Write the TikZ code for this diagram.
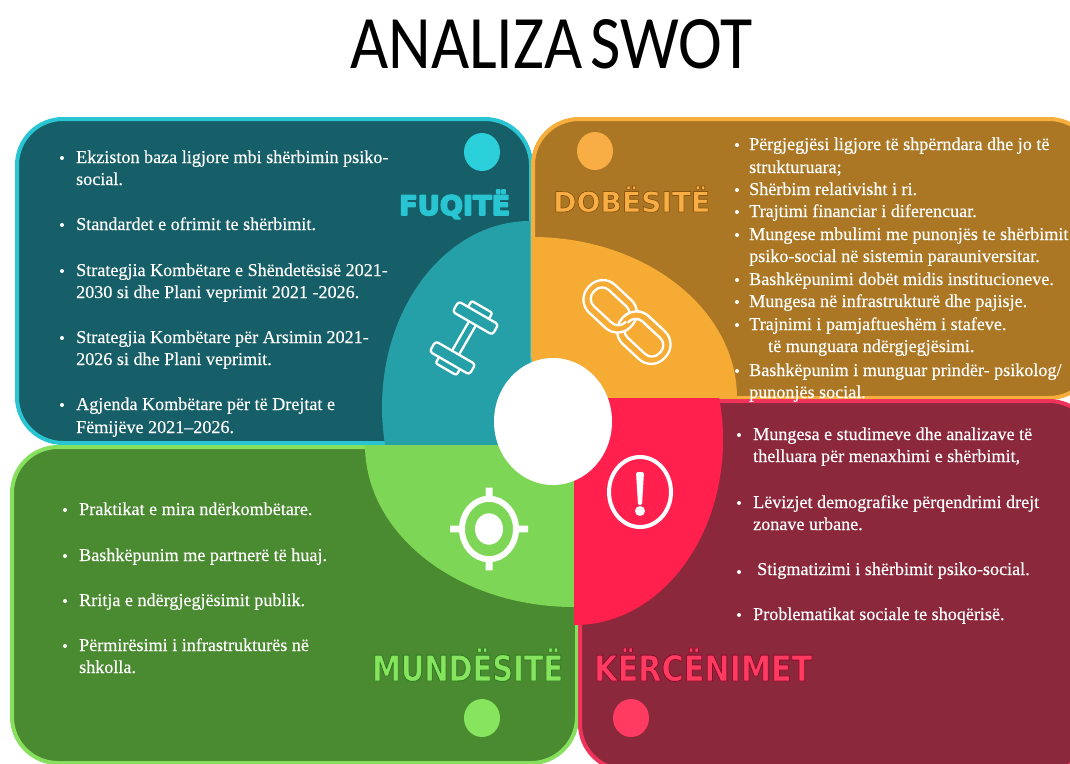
\documentclass[tikz,border=0pt]{standalone}
\usepackage{fontspec}
\usepackage{graphicx}
\setmainfont{Liberation Serif}
\newfontfamily\bodyfont[FakeBold=0.35]{Liberation Serif}
\newfontfamily\headfont{Carlito}
\newfontfamily\blockfont{DejaVu Sans}
\definecolor{cTLfill}{HTML}{175F68}\definecolor{cTLline}{HTML}{2AC5D2}\definecolor{cTLwedge}{HTML}{25A0A8}\definecolor{cTLdot}{HTML}{2BD0DA}
\definecolor{cTRfill}{HTML}{AB7724}\definecolor{cTRline}{HTML}{F7AE3C}\definecolor{cTRwedge}{HTML}{F6AC34}\definecolor{cTRdot}{HTML}{F8AE45}
\definecolor{cBLfill}{HTML}{4A8A30}\definecolor{cBLline}{HTML}{86E05E}\definecolor{cBLwedge}{HTML}{7DD656}\definecolor{cBLdot}{HTML}{86E45F}
\definecolor{cBRfill}{HTML}{8C283C}\definecolor{cBRline}{HTML}{F0335A}\definecolor{cBRwedge}{HTML}{FF204E}\definecolor{cBRdot}{HTML}{FF3B62}
\newcommand{\blocktitle}[5]{\resizebox{#1pt}{#2pt}{\special{pdf:code 2 Tr 1 j #4 w #5 RG}\blockfont\bfseries #3\special{pdf:code 0 Tr 0 j 1 w}}}
\tikzset{
  panel/.style={line width=4pt,rounded corners=46pt},
  txt/.style={anchor=base west,inner sep=0pt,text=white,font=\bodyfont\fontsize{18.1}{20}\selectfont},
  ttl/.style={anchor=base west,inner sep=0pt},
  icon/.style={draw=white,line width=2.3pt,line join=round},
  bullet/.style={fill=white,draw=none}
}
\begin{document}
\begin{tikzpicture}[x=1pt,y=-1pt]
\useasboundingbox (0,0) rectangle (1070,763);
\clip (0,0) rectangle (1070,763);
\fill[white] (0,0) rectangle (1070,763);
\node[ttl,text=black] (title) at (350,68) {\resizebox{402pt}{49pt}{\headfont ANALIZA\kern-0.1em\ SWOT}};

% panels
\draw[panel,draw=cTLline,fill=cTLfill] (17,119) rectangle (531,443);
\draw[panel,draw=cTRline,fill=cTRfill] (533,119) rectangle (1095,398);
\draw[panel,draw=cBLline,fill=cBLfill] (12,447) rectangle (577,763);
\draw[panel,draw=cBRline,fill=cBRfill] (580,401) rectangle (1095,770);

% wedges
\begin{scope}\clip (340,200) rectangle (530,445);\fill[cTLwedge] (530,407) ellipse [x radius=148,y radius=186];\end{scope}
\begin{scope}\clip (532,200) rectangle (760,398);\fill[cTRwedge] (532,398) ellipse [x radius=205,y radius=161];\end{scope}
\begin{scope}\clip (340,445) rectangle (574,640);\fill[cBLwedge] (574,445) ellipse [x radius=209,y radius=162];\end{scope}
\begin{scope}\clip (574,398) rectangle (760,640);\fill[cBRwedge] (575,440) ellipse [x radius=148,y radius=185];\end{scope}
\fill[white] (553,421.5) ellipse [x radius=59,y radius=63.5];

% panel dots
\fill[cTLdot] (482,152) ellipse [x radius=18,y radius=19];
\fill[cTRdot] (595,151) ellipse [x radius=18,y radius=19];
\fill[cBLdot] (482,718) ellipse [x radius=18,y radius=19];
\fill[cBRdot] (631,718) ellipse [x radius=18,y radius=19];

% dumbbell
\begin{scope}[shift={(464,338)},rotate=60]
  \draw[icon] (-17,-4) -- (17,-4) (-17,4) -- (17,4);
  \draw[icon,rounded corners=3pt] (17,-23) rectangle (29,23);
  \draw[icon,rounded corners=3pt] (-29,-23) rectangle (-17,23);
  \draw[icon,rounded corners=2pt] (29,-12) -- (36,-12) -- (36,12) -- (29,12);
  \draw[icon,rounded corners=2pt] (-29,-12) -- (-36,-12) -- (-36,12) -- (-29,12);
\end{scope}

% chain
\begin{scope}[shift={(627,322)},rotate=-43]
  \draw[icon,rounded corners=18pt] (-6,-19) rectangle (52,19);
  \draw[icon,rounded corners=10pt] (1,-11) rectangle (45,11);
  \fill[cTRwedge,even odd rule,rounded corners=18pt] (-52,-19) rectangle (6,19) [rounded corners=10pt] (-45,-11) rectangle (-1,11);
  \draw[icon,rounded corners=18pt] (-52,-19) rectangle (6,19);
  \draw[icon,rounded corners=10pt] (-45,-11) rectangle (-1,11);
  \begin{scope}
    \clip (-20,-30) rectangle (30,0);
    \fill[cTRwedge,even odd rule,rounded corners=18pt] (-6,-19) rectangle (52,19) [rounded corners=10pt] (1,-11) rectangle (45,11);
    \draw[icon,rounded corners=18pt] (-6,-19) rectangle (52,19);
    \draw[icon,rounded corners=10pt] (1,-11) rectangle (45,11);
  \end{scope}
\end{scope}

% target
\begin{scope}[shift={(489,529)},yscale=1.12]
  \draw[white,line width=6pt] (0,0) circle [radius=27];
  \fill[white] (0,0) circle [radius=14];
  \fill[white] (-3.5,-37) rectangle (3.5,-27) (-3.5,27) rectangle (3.5,37);
  \fill[white] (-39,-3) rectangle (-27,3) (27,-3) rectangle (39,3);
\end{scope}

% warning
\draw[white,line width=4pt] (640,492) ellipse [x radius=31,y radius=35];
\fill[white,rounded corners=1.5pt] (636,472) -- (644,472) -- (642,505) -- (638,505) -- cycle;
\fill[white] (640,511) circle [radius=5];

% text
\foreach \tx/\ty/\tt [count=\i] in {
 76/163/{Ekziston baza ligjore mbi shërbimin psiko-},
 76/185/{social.},
 76/230/{Standardet e ofrimit te shërbimit.},
 76/276/{Strategjia Kombëtare e Shëndetësisë 2021-},
 76/298/{2030 si dhe Plani veprimit 2021 -2026.},
 76/343/{Strategjia Kombëtare për Arsimin 2021-},
 76/365/{2026 si dhe Plani veprimit.},
 76/410/{Agjenda Kombëtare për të Drejtat e},
 76/433/{Fëmijëve 2021–2026.},
 749/150/{Përgjegjësi ligjore të shpërndara dhe jo të},
 749/173/{strukturuara;},
 749/195/{Shërbim relativisht i ri.},
 749/217/{Trajtimi financiar i diferencuar.},
 749/240/{Mungese mbulimi me punonjës te shërbimit},
 749/262/{psiko-social në sistemin parauniversitar.},
 749/285/{Bashkëpunimi dobët midis institucioneve.},
 749/307/{Mungesa në infrastrukturë dhe pajisje.},
 749/330/{Trajnimi i pamjaftueshëm i stafeve.},
 768/352/{të munguara ndërgjegjësimi.},
 749/376/{Bashkëpunim i munguar prindër- psikolog/},
 749/398/{punonjës social.},
 753/440/{Mungesa e studimeve dhe analizave të},
 753/462/{thelluara për menaxhimi e shërbimit,},
 753/508/{Lëvizjet demografike përqendrimi drejt},
 753/530/{zonave urbane.},
 757/575/{Stigmatizimi i shërbimit psiko-social.},
 753/620/{Problematikat sociale te shoqërisë.},
 79/515/{Praktikat e mira ndërkombëtare.},
 79/561/{Bashkëpunim me partnerë të huaj.},
 79/606/{Rritja e ndërgjegjësimit publik.},
 79/651/{Përmirësimi i infrastrukturës në},
 79/673/{shkolla.}}
 {\node[txt] (line\i) at (\tx,\ty) {\tt};}

% bullets
\foreach \bx/\by in {62/158,62/225,62/271,62/338,62/405,
 737/145,737/190,737/212,737/235,737/280,737/302,737/325,737/371,
 739/435,739/503,739/572,739/615,
 65/510,65/556,65/601,65/646}
 {\fill[bullet] (\bx,\by) circle [radius=2];}

% headings
\node[ttl] (fuqite) at (399,215) {\color{cTLline}\blocktitle{111}{25}{FUQITË}{0.6}{0.16 0.77 0.82}};
\node[ttl] (dobesite) at (553,212) {\color{cTRdot}\blocktitle{157}{26}{DOBËSITË}{0.25}{0.55 0.33 0.05}};
\node[ttl] (mundesite) at (372,681) {\color{cBLdot}\blocktitle{191}{33}{MUNDËSITË}{0.25}{0.18 0.48 0.13}};
\node[ttl] (kercenimet) at (594,681) {\color{cBRdot}\blocktitle{218}{33}{KËRCËNIMET}{0.25}{0.55 0.05 0.18}};
\end{tikzpicture}
\end{document}
